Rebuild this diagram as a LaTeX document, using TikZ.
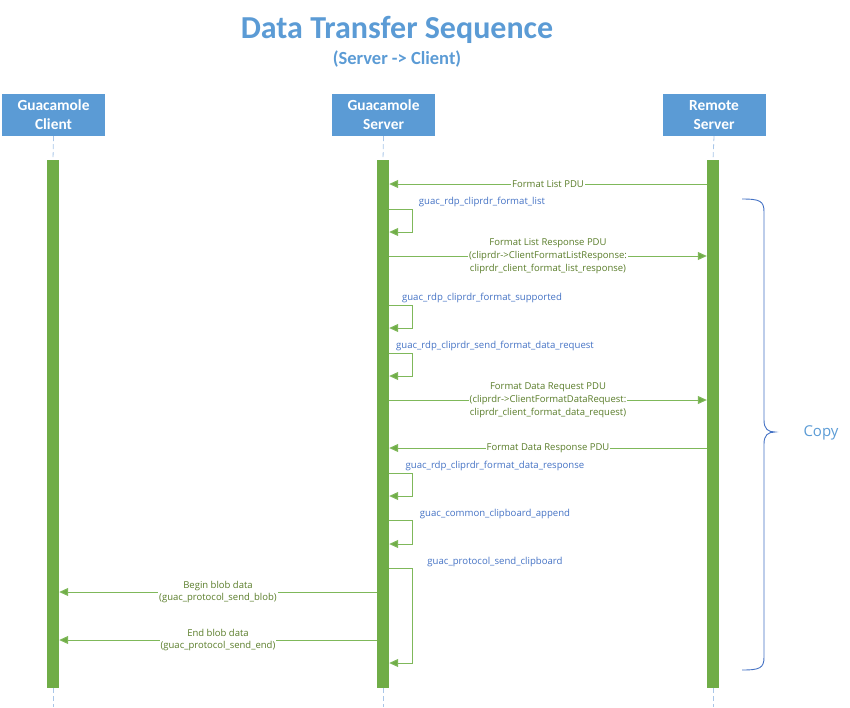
\documentclass[tikz,border=0pt]{standalone}
\usepackage{fontspec}
\setmainfont{Carlito}
\newfontfamily\lblfont{Open Sans}
\usetikzlibrary{arrows.meta}
\definecolor{hdrblue}{HTML}{5B9BD5}
\definecolor{bargreen}{HTML}{70AD47}
\definecolor{linegreen}{HTML}{7FB85A}
\definecolor{msgtxt}{HTML}{5A7D2A}
\definecolor{fnblue}{HTML}{4472C4}
\definecolor{lifeblue}{HTML}{A9C6E8}
\tikzset{
  hdr/.style={fill=hdrblue, draw=none, text=white, minimum width=103pt, minimum height=42pt, inner sep=0pt, align=center, font=\bfseries\fontsize{15.4}{19}\selectfont},
  lifebar/.style={fill=bargreen, draw=none, minimum width=12pt, minimum height=528pt, inner sep=0pt},
  life/.style={draw=lifeblue, line width=0.8pt, dash pattern=on 5pt off 3pt},
  msg/.style={draw=linegreen, line width=1pt, -{Triangle[length=9pt,width=8pt,fill=bargreen]}},
  lbl/.style={fill=white, inner sep=1pt, text=msgtxt, align=center, font=\lblfont\fontsize{9.5}{12.8}\selectfont},
  fnlbl/.style={inner sep=0pt, text=fnblue, font=\lblfont\fontsize{9.6}{12}\selectfont},
}
\begin{document}
\begin{tikzpicture}[x=1pt,y=-1pt]
\useasboundingbox (0,0) rectangle (850,707);
% title
\node[text=hdrblue, font=\bfseries\fontsize{32}{36}\selectfont] (title) at (397,30) {Data Transfer Sequence};
\node[text=hdrblue, font=\bfseries\fontsize{18.5}{22}\selectfont] (subtitle) at (397,59) {(Server -> Client)};
% headers
\node[hdr] (hc) at (53.5,115) {Guacamole\\Client};
\node[hdr] (hs) at (383.5,115) {Guacamole\\Server};
\node[hdr] (hr) at (714,115) {Remote\\Server};
% bars
\node[lifebar] (bc) at (53,424) {};
\node[lifebar] (bs) at (383,424) {};
\node[lifebar] (br) at (713,424) {};
\coordinate (ec) at (53,707);
\coordinate (es) at (383,707);
\coordinate (er) at (713,707);
% lifelines
\draw[life] (hc.south) -- (bc.north);
\draw[life] (hs.south) -- (bs.north);
\draw[life] (hr.south) -- (br.north);
\draw[life] (bc.south) -- (ec);
\draw[life] (bs.south) -- (es);
\draw[life] (br.south) -- (er);
% messages
\draw[msg] (br.west |- 0,184) -- node[lbl] {Format List PDU} (bs.east |- 0,184);
\draw[msg] (bs.east |- 0,209) -- ++(23,0) -- ++(0,23) -- (bs.east |- 0,232);
\node[fnlbl] (f1) at (482,202) {guac\_rdp\_cliprdr\_format\_list};
\draw[msg] (bs.east |- 0,256) -- node[lbl] {Format List Response PDU\\(cliprdr->ClientFormatListResponse:\\cliprdr\_client\_format\_list\_response)} (br.west |- 0,256);
\draw[msg] (bs.east |- 0,305) -- ++(23,0) -- ++(0,23) -- (bs.east |- 0,328);
\node[fnlbl] (f2) at (482,298) {guac\_rdp\_cliprdr\_format\_supported};
\draw[msg] (bs.east |- 0,353) -- ++(23,0) -- ++(0,23) -- (bs.east |- 0,376);
\node[fnlbl] (f3) at (495,346) {guac\_rdp\_cliprdr\_send\_format\_data\_request};
\draw[msg] (bs.east |- 0,400) -- node[lbl] {Format Data Request PDU\\(cliprdr->ClientFormatDataRequest:\\cliprdr\_client\_format\_data\_request)} (br.west |- 0,400);
\draw[msg] (br.west |- 0,448) -- node[lbl] {Format Data Response PDU} (bs.east |- 0,448);
\draw[msg] (bs.east |- 0,473) -- ++(23,0) -- ++(0,23) -- (bs.east |- 0,496);
\node[fnlbl] (f4) at (495,466) {guac\_rdp\_cliprdr\_format\_data\_response};
\draw[msg] (bs.east |- 0,520) -- ++(23,0) -- ++(0,24) -- (bs.east |- 0,544);
\node[fnlbl] (f5) at (495,514) {guac\_common\_clipboard\_append};
\draw[msg] (bs.east |- 0,568) -- ++(23,0) -- ++(0,95) -- (bs.east |- 0,663);
\node[fnlbl] (f6) at (495,562) {guac\_protocol\_send\_clipboard};
\draw[msg] (bs.west |- 0,592) -- node[lbl] {Begin blob data\\(guac\_protocol\_send\_blob)} (bc.east |- 0,592);
\draw[msg] (bs.west |- 0,640) -- node[lbl] {End blob data\\(guac\_protocol\_send\_end)} (bc.east |- 0,640);
% brace
\draw[fnblue, line width=0.9pt] (742,199) .. controls (760,199) and (764,201) .. (764,212)
  -- (764,420) .. controls (764,429) and (768,432) .. (775,432)
  .. controls (768,432) and (764,435) .. (764,444)
  -- (764,657) .. controls (764,668) and (760,670) .. (742,670);
\node[text=hdrblue, font=\lblfont\fontsize{15}{18}\selectfont] (copy) at (821,433) {Copy};
\end{tikzpicture}
\end{document}
